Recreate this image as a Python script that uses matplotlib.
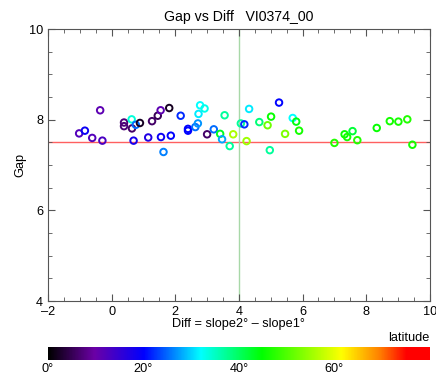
import matplotlib
matplotlib.use('Agg')
import matplotlib.pyplot as plt
import numpy as np
from matplotlib.colors import LinearSegmentedColormap, Normalize

plt.rcParams['font.family'] = ['Liberation Sans', 'DejaVu Sans']
plt.rcParams['font.size'] = 9.2

# data
diff = [-1.02, -0.84, -0.61, -0.36, -0.29, 0.39, 0.39, 0.63, 0.64, 0.76,
        0.89, 0.69, 1.15, 1.27, 1.45, 1.54, 1.81, 1.55, 1.63, 1.86,
        2.17, 2.40, 2.40, 2.63, 2.71, 2.73, 2.78, 2.92, 3.00, 3.21,
        3.41, 3.47, 3.55, 3.71, 3.82, 4.06, 4.17, 4.32, 4.24, 4.64,
        4.90, 5.01, 5.26, 4.97, 5.45, 5.69, 5.80, 5.89, 7.00, 7.32,
        7.40, 7.57, 7.72, 8.33, 8.74, 9.01, 9.29, 9.45]
gap = [7.70, 7.76, 7.60, 8.21, 7.54, 7.94, 7.86, 8.01, 7.81, 7.89,
       7.93, 7.54, 7.61, 7.97, 8.09, 8.21, 8.26, 7.62, 7.29, 7.65,
       8.09, 7.80, 7.76, 7.84, 7.92, 8.13, 8.32, 8.25, 7.68, 7.79,
       7.69, 7.57, 8.10, 7.42, 7.68, 7.92, 7.90, 8.24, 7.53, 7.95,
       7.88, 8.07, 8.38, 7.33, 7.69, 8.04, 7.96, 7.76, 7.49, 7.68,
       7.62, 7.75, 7.55, 7.82, 7.97, 7.96, 8.01, 7.45]
lat = [12, 19, 12, 11, 13, 7, 7, 34, 6, 25,
       2, 18, 17, 6, 5, 11, 2, 19, 26, 20,
       22, 20, 20, 25, 27, 31, 32, 33, 6, 25,
       43, 28, 37, 37, 56, 37, 22, 31, 55, 39,
       52, 45, 20, 37, 53, 32, 44, 46, 47, 45,
       46, 42, 47, 45, 46, 46, 47, 46]

gap_ref = 7.5
diff_ref = 4.0
lat_ticks = [0, 20, 40, 60]

cmap = LinearSegmentedColormap.from_list('idl', [
    (0.0, (0, 0, 0)),
    (0.12, (0.42, 0, 0.65)),
    (0.25, (0, 0, 1)),
    (0.40, (0, 1, 1)),
    (0.56, (0, 1, 0)),
    (0.77, (1, 1, 0)),
    (0.87, (1, 0.5, 0)),
    (0.94, (1, 0, 0)),
    (1.0, (1, 0, 0)),
])
norm = Normalize(0, 80)

fig = plt.figure(figsize=(4.36, 3.74), dpi=100)
ax = fig.add_axes([0.110, 0.195, 0.876, 0.727])

ax.axhline(gap_ref, color='#ff6060', lw=1, zorder=1)
ax.axvline(diff_ref, color='#a8d8a8', lw=1, zorder=1)
ax.scatter(diff, gap, s=22, facecolors='none', edgecolors=cmap(norm(lat)),
           linewidths=1.4, zorder=3)

ax.set_xlim(-2, 10)
ax.set_ylim(4, 10)
ax.set_xticks(np.arange(-2, 11, 2))
ax.set_yticks([4, 6, 8, 10])
ax.set_xticks(np.arange(-2, 10.01, 0.5), minor=True)
ax.set_yticks(np.arange(4, 10.01, 0.5), minor=True)
ax.set_xticklabels(['\u20132', '0', '2', '4', '6', '8', '10'])
ax.tick_params(which='both', direction='in', top=True, right=True,
               color='#555555', labelsize=9.2)
ax.tick_params(which='major', length=5)
ax.tick_params(which='minor', length=3)
for s in ax.spines.values():
    s.set_color('#555555')
ax.set_xlabel('Diff = slope2\u00b0 \u2013 slope1\u00b0', labelpad=0)
ax.set_ylabel('Gap', labelpad=2)
ax.set_title('Gap vs Diff   VI0374_00', fontsize=10.2, pad=6)

cax = fig.add_axes([0.110, 0.037, 0.876, 0.034])
grad = np.linspace(0, 80, 512).reshape(1, -1)
cax.imshow(grad, aspect='auto', cmap=cmap, norm=norm, extent=[0, 80, 0, 1])
cax.set_yticks([])
cax.set_xticks(lat_ticks)
cax.set_xticklabels([f'{t}\u00b0' for t in lat_ticks])
cax.tick_params(length=0, labelsize=9.2, pad=2)
for s in cax.spines.values():
    s.set_visible(False)
cax.text(1.0, 1.25, 'latitude', transform=cax.transAxes, ha='right', va='bottom')

fig.savefig('out.png', dpi=100)
